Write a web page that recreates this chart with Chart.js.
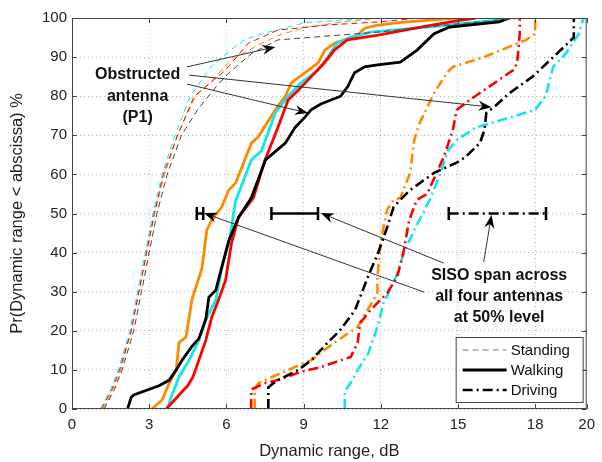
<!DOCTYPE html>
<html>
<head>
<meta charset="utf-8">
<script src="https://cdn.jsdelivr.net/npm/chart.js@4.4.0/dist/chart.umd.min.js"></script>
<style>
  html, body { margin: 0; padding: 0; background: #fff; }
  #wrap { width: 602px; height: 462px; }
</style>
</head>
<body>
<div id="wrap"><canvas id="cdfChart" width="602" height="462"></canvas></div>
<script>
// tick labels
const xTickValues = [0, 3, 6, 9, 12, 15, 18, 20];
const yTickValues = [0, 10, 20, 30, 40, 50, 60, 70, 80, 90, 100];

// Standing (dashed, thin) - [dynamic range dB, percent]
const standBlack = [[1.25,0],[1.65,5],[1.95,10],[2.4,20],[2.7,30],[3.0,40],[3.3,50],[3.7,60],[4.25,70],[4.93,77],[5.6,82.4],[6.1,86],[7.0,91],[8.0,94.4],[11.9,96.4],[15.0,98.5],[17.5,100]];
const standRed = [[1.15,0],[1.55,5],[1.85,10],[2.3,20],[2.6,30],[2.9,40],[3.2,50],[3.55,60],[4.1,70],[4.75,80],[5.05,81.6],[5.97,86.7],[6.86,93.6],[8.0,96.9],[9.9,98.2],[11.9,99],[13.5,100]];
const standCyan = [[1.1,0],[1.5,5],[1.8,10],[2.25,20],[2.55,30],[2.85,40],[3.15,50],[3.5,60],[4.0,70],[4.6,80],[5.4,87.5],[6.1,91.5],[6.7,94.4],[7.4,96],[9.0,98.7],[10.5,99.5],[12.0,100]];
const standOrange = [[1.2,0],[1.6,5],[1.9,10],[2.3,20],[2.6,30],[2.9,40],[3.2,50],[3.6,60],[4.1,70],[4.8,80],[5.2,82.4],[6.2,89.3],[7.1,92.6],[8.0,95.5],[9.0,97.5],[10.5,99],[12.0,100]];

// Walking (solid, thick)
const walkBlack = [[2.16,0],[2.3,3],[2.4,3.6],[3.4,6],[3.78,7.4],[4.05,10],[4.28,12.5],[4.66,16],[4.93,18],[5.2,23],[5.32,28.6],[5.59,30.4],[5.82,36.3],[6.09,43],[6.47,49],[6.97,54],[7.52,63.7],[8.29,68],[8.67,72],[9.06,74.7],[9.29,76.5],[9.67,78],[10.44,80],[10.71,82.4],[10.98,86],[11.37,87.5],[11.87,88],[12.76,88.7],[13.41,91.8],[14.07,96],[14.68,97.7],[16.6,99],[17.0,100]];
const walkRed = [[3.66,0],[4.5,6],[4.7,8.2],[4.93,12.5],[5.2,17.6],[5.43,23.5],[5.7,28],[5.97,33],[6.2,42.5],[6.47,49],[7.05,54],[7.5,63.7],[8.0,72],[8.4,79],[8.8,81.6],[9.3,85],[9.8,88.5],[10.2,91.8],[10.7,94.4],[11.9,95.6],[13.6,97.7],[15.0,99.3],[15.7,100]];
const walkCyan = [[3.7,0],[3.85,3],[4.16,8.2],[4.55,12.5],[4.93,17.6],[5.2,22.8],[5.59,28],[5.82,36],[6.09,42.5],[6.2,46.5],[6.35,53],[6.97,63.7],[7.36,66],[7.9,75.7],[8.4,80],[8.9,83.4],[9.56,86.7],[9.94,90],[10.3,93.6],[10.8,95],[11.6,96.4],[14.3,98],[16.6,99.5],[17.05,100]];
const walkOrange = [[3.1,0],[3.5,2.3],[3.78,6.6],[4.05,10],[4.16,17],[4.43,18.4],[4.66,28],[5.05,36],[5.24,45.8],[5.43,48.3],[5.82,51.7],[6.09,56],[6.36,57.8],[6.97,68],[7.24,69.6],[7.9,76.5],[8.29,80],[8.52,83.4],[9.06,86],[9.56,88.5],[9.83,91.8],[10.21,93.6],[11.1,95.6],[11.37,97.4],[11.87,98.2],[12.8,98.9],[14.95,100]];

// Driving (dash-dot, thick)
const driveBlack = [[7.63,0],[7.63,5.6],[8.0,7.4],[8.8,10],[9.3,12.5],[9.94,17],[10.4,20],[11.0,25.3],[11.5,33.8],[11.9,40],[12.25,46.5],[12.5,51.7],[12.76,53.5],[13.14,56],[14.07,60.4],[14.95,63],[15.3,64.5],[15.85,68],[16.03,71.4],[16.1,75.7],[16.4,77.2],[17.0,80.8],[17.9,85],[18.7,90],[19.5,95],[19.5,100]];
const driveRed = [[6.96,0],[6.97,5],[7.5,6.6],[8.0,7.4],[8.9,9.5],[9.67,10.7],[10.83,13.3],[11.1,17],[11.2,22],[11.6,25.3],[12.25,29.7],[12.64,33.8],[12.9,40.7],[13.1,48.3],[13.4,53.5],[13.8,55],[14.45,64.5],[14.8,71.4],[14.95,76.5],[15.45,79],[17.15,86.7],[17.3,88.5],[17.4,96],[17.4,100]];
const driveCyan = [[10.6,0],[10.6,4.5],[10.9,7.4],[11.1,10],[11.5,14],[11.87,21],[12.1,27],[12.4,31],[12.6,34],[12.9,40],[13.3,45.8],[13.7,50.9],[13.9,53.5],[14.3,60],[14.6,66],[14.95,68.8],[15.7,72],[17.1,74.7],[18.0,76.5],[18.4,80],[18.7,87.5],[19.2,91],[19.7,96],[19.85,99.5],[19.9,100]];
const driveOrange = [[7.1,0],[7.1,5],[7.24,6.6],[8.4,10],[9.3,12.5],[10.2,17],[11.1,21],[11.87,29.7],[11.87,33.8],[12.0,43],[12.25,51],[12.5,53.5],[12.76,54],[13.14,60.4],[13.3,68.8],[13.5,73],[14.07,80.8],[14.57,86],[14.8,87.5],[16.0,90],[17.65,94.4],[18.0,96],[18.0,100]];

// SISO spans at the 50% level
const spanLevel = 50;
const standSpan = [4.85, 5.1];
const walkSpan = [7.75, 9.56];
const driveSpan = [14.64, 18.42];

// annotation anchors (data coords): [fromX, fromY, toX, toY]
const obstructedArrows = [[4.47, 87.5, 7.9, 92.6], [4.55, 85.4, 16.3, 77.2], [4.47, 83.1, 9.17, 75.7]];
const sisoArrows = [[13.68, 29.9, 5.13, 50.1], [14.45, 37.3, 9.67, 50.1], [16.0, 37.6, 16.3, 49.6]];
const obstructedText = ['Obstructed', 'antenna', '(P1)'];
const obstructedPos = [2.55, [85.4, 80.0, 74.6]];
const sisoText = ['SISO span across', 'all four antennas', 'at 50% level'];
const sisoPos = [16.6, [34.0, 28.7, 23.5]];

const BLACK = '#000000', RED = '#ff0000', CYAN = '#12e6e6', ORANGE = '#ff8a00';
const DASH = [6, 4];
const DASHDOT = [10, 4, 2, 4];
const FONT = '"Liberation Sans", Arial, sans-serif';

function pts(arr) {
    return arr.map(p => ({ x: p[0], y: p[1] }));
}

function curve(arr, color, width, dash) {
    return {
        data: pts(arr),
        borderColor: color,
        borderWidth: width,
        borderDash: dash,
        pointRadius: 0,
        tension: 0,
        fill: false
    };
}

function span(range, dash) {
    return {
        data: pts([[range[0], spanLevel], [range[1], spanLevel]]),
        borderColor: BLACK,
        backgroundColor: BLACK,
        borderWidth: 2.5,
        borderDash: dash,
        pointStyle: 'line',
        rotation: 90,
        pointRadius: 6.5,
        pointBorderWidth: 2.5,
        pointBorderColor: BLACK,
        tension: 0
    };
}

const datasets = [
    curve(standBlack, '#444', 1, DASH),
    curve(standRed, RED, 1, DASH),
    curve(standCyan, CYAN, 1, DASH),
    curve(standOrange, ORANGE, 1, DASH),
    curve(walkBlack, BLACK, 2.8, []),
    curve(walkRed, RED, 2.8, []),
    curve(walkCyan, CYAN, 2.8, []),
    curve(walkOrange, ORANGE, 2.8, []),
    curve(driveBlack, BLACK, 2.6, DASHDOT),
    curve(driveRed, RED, 2.6, DASHDOT),
    curve(driveCyan, CYAN, 2.6, DASHDOT),
    curve(driveOrange, ORANGE, 2.6, DASHDOT),
    span(standSpan, []),
    span(walkSpan, []),
    span(driveSpan, DASHDOT)
];

function drawArrow(ctx, x1, y1, x2, y2) {
    const ang = Math.atan2(y2 - y1, x2 - x1);
    const len = 13, half = 5, notch = 9;
    ctx.save();
    ctx.strokeStyle = '#333';
    ctx.lineWidth = 1;
    ctx.beginPath();
    ctx.moveTo(x1, y1);
    ctx.lineTo(x2 - Math.cos(ang) * notch, y2 - Math.sin(ang) * notch);
    ctx.stroke();
    ctx.translate(x2, y2);
    ctx.rotate(ang);
    ctx.fillStyle = '#000';
    ctx.beginPath();
    ctx.moveTo(0, 0);
    ctx.lineTo(-len, -half);
    ctx.lineTo(-notch, 0);
    ctx.lineTo(-len, half);
    ctx.closePath();
    ctx.fill();
    ctx.restore();
}

const decorPlugin = {
    id: 'decor',
    afterDraw(chart) {
        const ctx = chart.ctx;
        const a = chart.chartArea;
        const xs = chart.scales.x, ys = chart.scales.y;

        // frame and inward ticks
        ctx.save();
        ctx.strokeStyle = '#444';
        ctx.lineWidth = 1;
        ctx.strokeRect(a.left + 0.5, a.top + 0.5, a.right - a.left - 1, a.bottom - a.top - 1);
        ctx.beginPath();
        xTickValues.forEach(v => {
            const px = Math.round(xs.getPixelForValue(v)) + 0.5;
            ctx.moveTo(px, a.bottom); ctx.lineTo(px, a.bottom - 5);
            ctx.moveTo(px, a.top); ctx.lineTo(px, a.top + 5);
        });
        yTickValues.forEach(v => {
            const py = Math.round(ys.getPixelForValue(v)) + 0.5;
            ctx.moveTo(a.left, py); ctx.lineTo(a.left + 5, py);
            ctx.moveTo(a.right, py); ctx.lineTo(a.right - 5, py);
        });
        ctx.stroke();
        ctx.restore();

        // arrows
        obstructedArrows.concat(sisoArrows).forEach(r => {
            drawArrow(ctx, xs.getPixelForValue(r[0]), ys.getPixelForValue(r[1]),
                xs.getPixelForValue(r[2]), ys.getPixelForValue(r[3]));
        });

        // annotation text
        ctx.save();
        ctx.fillStyle = '#111';
        ctx.font = 'bold 16px ' + FONT;
        ctx.textAlign = 'center';
        ctx.textBaseline = 'middle';
        obstructedText.forEach((t, i) => {
            ctx.fillText(t, xs.getPixelForValue(obstructedPos[0]), ys.getPixelForValue(obstructedPos[1][i]));
        });
        sisoText.forEach((t, i) => {
            ctx.fillText(t, xs.getPixelForValue(sisoPos[0]), ys.getPixelForValue(sisoPos[1][i]));
        });
        ctx.restore();

        // legend box
        const bw = 127, bh = 65;
        const bx = a.right - 4 - bw, by = a.bottom - 7 - bh;
        ctx.save();
        ctx.fillStyle = '#fff';
        ctx.fillRect(bx, by, bw, bh);
        ctx.strokeStyle = '#444';
        ctx.lineWidth = 1;
        ctx.strokeRect(bx + 0.5, by + 0.5, bw, bh);
        const items = [
            ['Standing', '#777', 1, DASH],
            ['Walking', BLACK, 2.8, []],
            ['Driving', BLACK, 2.6, DASHDOT]
        ];
        ctx.font = '15px ' + FONT;
        ctx.textBaseline = 'middle';
        items.forEach((it, i) => {
            const cy = by + 13 + i * 20;
            ctx.strokeStyle = it[1];
            ctx.lineWidth = it[2];
            ctx.setLineDash(it[3]);
            ctx.beginPath();
            ctx.moveTo(bx + 7, cy);
            ctx.lineTo(bx + 51, cy);
            ctx.stroke();
            ctx.setLineDash([]);
            ctx.fillStyle = '#111';
            ctx.fillText(it[0], bx + 55, cy + 1);
        });
        ctx.restore();
    }
};

const ctx = document.getElementById('cdfChart').getContext('2d');
const cdfChart = new Chart(ctx, {
    type: 'line',
    data: { datasets: datasets },
    options: {
        responsive: false,
        animation: false,
        layout: { padding: { top: 18, right: 11, left: 0, bottom: 0 } },
        plugins: {
            legend: { display: false },
            tooltip: { enabled: false }
        },
        scales: {
            x: {
                type: 'linear',
                min: 0,
                max: 20,
                afterBuildTicks: s => { s.ticks = xTickValues.map(v => ({ value: v })); },
                afterFit: s => { s.height = 53; },
                grid: { color: '#b5b5b5', drawTicks: false },
                border: { display: false, dash: [1, 3] },
                ticks: {
                    color: '#222',
                    padding: 7,
                    maxRotation: 0,
                    font: { size: 15, family: FONT }
                },
                title: {
                    display: true,
                    text: 'Dynamic range, dB',
                    color: '#222',
                    padding: { top: 0, bottom: 1 },
                    font: { size: 16.5, family: FONT }
                }
            },
            y: {
                type: 'linear',
                min: 0,
                max: 100,
                afterBuildTicks: s => { s.ticks = yTickValues.map(v => ({ value: v })); },
                afterFit: s => { s.width = 72; },
                grid: { color: '#b5b5b5', drawTicks: false },
                border: { display: false, dash: [1, 3] },
                ticks: {
                    color: '#222',
                    padding: 5,
                    font: { size: 15, family: FONT }
                },
                title: {
                    display: true,
                    text: 'Pr(Dynamic range < abscissa) %',
                    color: '#222',
                    padding: { top: 8, bottom: 0 },
                    font: { size: 16.5, family: FONT }
                }
            }
        }
    },
    plugins: [decorPlugin]
});
</script>
</body>
</html>
